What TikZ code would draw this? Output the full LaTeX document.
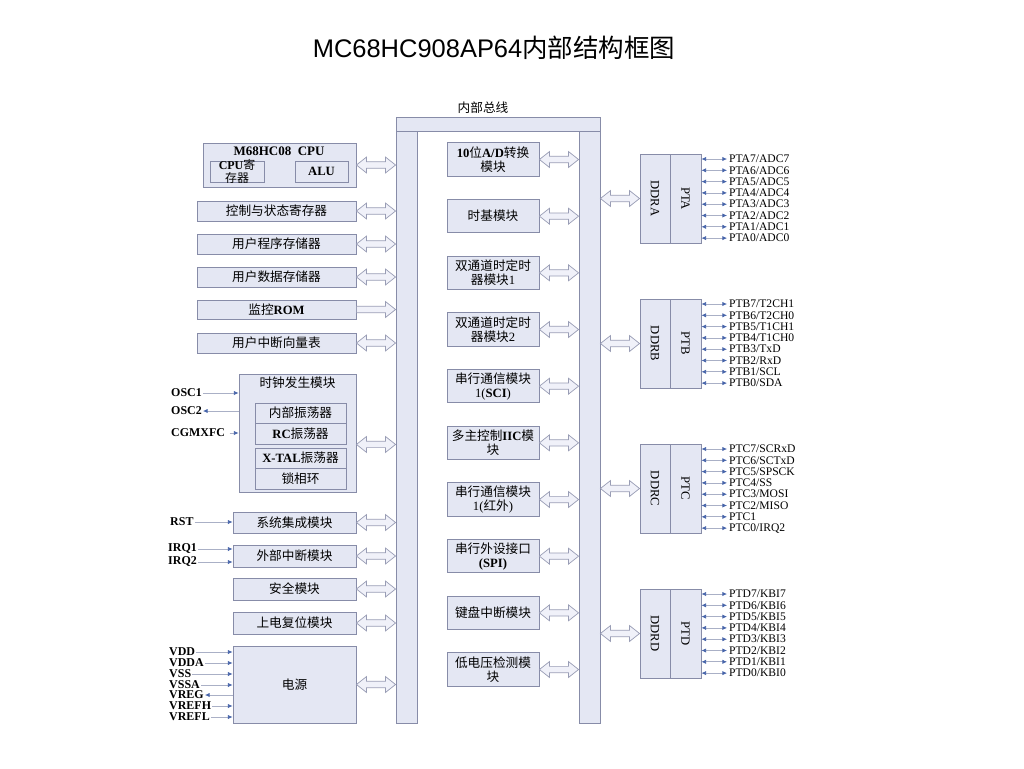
\documentclass[tikz,border=0pt]{standalone}
\usepackage{fontspec}
\setmainfont{Liberation Serif}
\newfontfamily\titlefont{Liberation Sans}
\newfontfamily\zhfont{Noto Sans CJK SC}
\usetikzlibrary{fit, positioning, calc, arrows.meta}
\newcommand{\zh}[1]{{\zhfont #1}}
\definecolor{boxfill}{RGB}{228,231,243}
\definecolor{boxline}{RGB}{135,140,168}
\definecolor{linkfill}{RGB}{240,241,249}
\definecolor{pinline}{RGB}{170,176,198}
\definecolor{pinhead}{RGB}{70,100,170}

% hollow bus arrows
\newcommand{\twoway}[2]{%
  \draw[buslink] let \p1=(#1), \p2=(#2) in
    (\x1,\y1) -- (\x1+5.7pt,\y1+4.5pt) -- (\x1+5.7pt,\y1+1.8pt)
    -- (\x2-5.7pt,\y1+1.8pt) -- (\x2-5.7pt,\y1+4.5pt) -- (\x2,\y1)
    -- (\x2-5.7pt,\y1-4.5pt) -- (\x2-5.7pt,\y1-1.8pt)
    -- (\x1+5.7pt,\y1-1.8pt) -- (\x1+5.7pt,\y1-4.5pt) -- cycle;}
\newcommand{\oneway}[2]{%
  \draw[buslink] let \p1=(#1), \p2=(#2) in
    (\x1,\y1+1.8pt) -- (\x2-5.7pt,\y1+1.8pt) -- (\x2-5.7pt,\y1+4.5pt) -- (\x2,\y1)
    -- (\x2-5.7pt,\y1-4.5pt) -- (\x2-5.7pt,\y1-1.8pt) -- (\x1,\y1-1.8pt) -- cycle;}
% I/O port: letter, top, pins
\newcommand{\ioport}[3]{%
  \node[blk, fit={(640,#2) (670,#2+89)}] (ddr#1) {};
  \node[blk, fit={(670,#2) (701,#2+89)}] (pt#1) {};
  \node[txt, rotate=-90] at (ddr#1.center) {DDR#1};
  \node[txt, rotate=-90] at (pt#1.center) {PT#1};
  \twoway{busR.east |- ddr#1.west}{ddr#1.west}
  \foreach \t [count=\k from 0] in {#3} {
    \node[pinr, anchor=west] (p#1\k) at (727,{#2+5+11.3*\k}) {\t};
    \draw[pinio] (pt#1.east |- p#1\k.west) -- (p#1\k.west);
  }
}

\begin{document}
\begin{tikzpicture}[x=0.02cm, y=-0.02cm,
    txt/.style={align=center, inner sep=0pt, font=\fontsize{7.2}{8}\selectfont},
    blk/.style={draw=boxline, fill=boxfill, line width=0.5pt, inner sep=0pt},
    mod/.style={blk, txt, minimum width=1.84cm, minimum height=0.67cm},
    buslink/.style={draw=boxline!85, fill=linkfill, line width=0.4pt},
    pinl/.style={font=\bfseries\fontsize{6.8}{7}\selectfont, inner sep=0.5pt},
    pinr/.style={font=\fontsize{6.6}{7}\selectfont, inner sep=1pt},
    pinin/.style={draw=pinline, line width=0.4pt, -{Latex[length=2.6pt, width=2.4pt, color=pinhead]}},
    pinout/.style={draw=pinline, line width=0.4pt, {Latex[length=2.6pt, width=2.4pt, color=pinhead]}-},
    pinio/.style={draw=pinline, line width=0.4pt,
      {Latex[length=2.6pt, width=2.4pt, color=pinhead]}-{Latex[length=2.6pt, width=2.4pt, color=pinhead]}},
    node distance=0.446cm
  ]
  \fill[white] (0,0) rectangle (1024,768);
  \useasboundingbox (0,0) rectangle (1024,768);

  \node[font=\fontsize{14.5}{16}\selectfont] (title) at (494,48)
    {{\titlefont MC68HC908AP64}\zh{内部结构框图}};

  % internal bus
  \node[txt] (buslabel) at (483,108) {\zh{内部总线}};
  \node[blk, fit={(396,117) (600,131)}] (busT) {};
  \node[blk, fit={(396,131) (417,723)}] (busL) {};
  \node[blk, fit={(579,131) (600,723)}] (busR) {};

  % left column
  \node[blk, fit={(203,143) (356,187)}] (cpu) {};
  \node[txt, font=\bfseries\fontsize{7.4}{8}\selectfont] (cputitle) at (279,151) {M68HC08\ \ CPU};
  \node[blk, fit={(210,161) (264,182)},
    label={[txt, font=\fontsize{6.8}{7}\selectfont]center:{\textbf{CPU}\zh{寄}\\\zh{存器}}}] (cpureg) {};
  \node[blk, fit={(295,161) (348,182)}, label={[txt]center:\textbf{ALU}}] (alu) {};
  \node[blk, fit={(197,201) (356,221)}, label={[txt]center:\zh{控制与状态寄存器}}] (csr) {};
  \node[blk, fit={(197,234) (356,254)}, label={[txt]center:\zh{用户程序存储器}}] (prog) {};
  \node[blk, fit={(197,267) (356,287)}, label={[txt]center:\zh{用户数据存储器}}] (data) {};
  \node[blk, fit={(197,300) (356,319)}, label={[txt]center:{\zh{监控}\textbf{ROM}}}] (rom) {};
  \node[blk, fit={(197,333) (356,353)}, label={[txt]center:\zh{用户中断向量表}}] (vect) {};

  \node[blk, fit={(239,374) (356,492)}] (clk) {};
  \node[txt] (clktitle) at (297.5,383) {\zh{时钟发生模块}};
  \node[blk, fit={(255,403) (346,423)}, label={[txt]center:\zh{内部振荡器}}] (osci) {};
  \node[blk, fit={(255,423) (346,444)}, label={[txt]center:{\textbf{RC}\zh{振荡器}}}] (rcosc) {};
  \node[blk, fit={(255,448) (346,468)}, label={[txt]center:{\textbf{X-TAL}\zh{振荡器}}}] (xtal) {};
  \node[blk, fit={(255,468) (346,489)}, label={[txt]center:\zh{锁相环}}] (pll) {};

  \node[blk, fit={(233,512) (356,533)}, label={[txt]center:\zh{系统集成模块}}] (sim) {};
  \node[blk, fit={(233,545) (356,567)}, label={[txt]center:\zh{外部中断模块}}] (irq) {};
  \node[blk, fit={(233,578) (356,600)}, label={[txt]center:\zh{安全模块}}] (sec) {};
  \node[blk, fit={(233,612) (356,634)}, label={[txt]center:\zh{上电复位模块}}] (por) {};
  \node[blk, fit={(233,646) (356,723)}, label={[txt]center:\zh{电源}}] (pwr) {};

  % middle column
  \node[mod] (adc) at (493,159.5) {\textbf{10}\zh{位}\textbf{A/D}\zh{转换}\\\zh{模块}};
  \node[mod, below=of adc] (tbm) {\zh{时基模块}};
  \node[mod, below=of tbm] (tim1) {\zh{双通道时定时}\\\zh{器模块}1};
  \node[mod, below=of tim1] (tim2) {\zh{双通道时定时}\\\zh{器模块}2};
  \node[mod, below=of tim2] (sci) {\zh{串行通信模块}\\1(\textbf{SCI})};
  \node[mod, below=of sci] (iic) {\zh{多主控制}\textbf{IIC}\zh{模}\\\zh{块}};
  \node[mod, below=of iic] (irda) {\zh{串行通信模块}\\1(\zh{红外})};
  \node[mod, below=of irda] (spi) {\zh{串行外设接口}\\\textbf{(SPI)}};
  \node[mod, below=of spi] (kbi) {\zh{键盘中断模块}};
  \node[mod, below=of kbi] (lvi) {\zh{低电压检测模}\\\zh{块}};

  % links to the bus
  \foreach \m in {cpu,csr,prog,data,vect,sim,irq,sec,por,pwr} {
    \twoway{\m.east}{busL.west |- \m.east}
  }
  \oneway{rom.east}{busL.west |- rom.east}
  \twoway{clk.east |- rcosc.south}{busL.west |- rcosc.south}
  \foreach \m in {adc,tbm,tim1,tim2,sci,iic,irda,spi,kbi,lvi} {
    \twoway{\m.east}{busR.west |- \m.east}
  }

  % left pins
  \node[pinl, anchor=west] (osc1) at (170,393) {OSC1};
  \draw[pinin] (osc1.east) -- (osc1 -| clk.west);
  \node[pinl, anchor=west] (osc2) at (170,411) {OSC2};
  \draw[pinout] (osc2.east) -- (osc2 -| clk.west);
  \node[pinl, anchor=west] (cgm) at (170,433) {CGMXFC};
  \draw[pinin] ([xshift=2pt]cgm.east) -- (cgm -| clk.west);
  \node[pinl, anchor=west] (rst) at (169,522) {RST};
  \draw[pinin] (rst.east) -- (rst -| sim.west);
  \node[pinl, anchor=west] (irq1) at (167,549) {IRQ1};
  \draw[pinin] (irq1.east) -- (irq1 -| irq.west);
  \node[pinl, anchor=west] (irq2) at (167,562) {IRQ2};
  \draw[pinin] (irq2.east) -- (irq2 -| irq.west);
  \foreach \t/\yy/\d in {VDD/652/pinin, VDDA/663/pinin, VSS/674/pinin, VSSA/685/pinin,
      VREG/695/pinout, VREFH/706/pinin, VREFL/717/pinin} {
    \node[pinl, anchor=west] (\t) at (168,\yy) {\t};
    \draw[\d] (\t.east) -- (\t -| pwr.west);
  }

  % ports
  \ioport{A}{154}{PTA7/ADC7, PTA6/ADC6, PTA5/ADC5, PTA4/ADC4, PTA3/ADC3, PTA2/ADC2, PTA1/ADC1, PTA0/ADC0}
  \ioport{B}{299}{PTB7/T2CH1, PTB6/T2CH0, PTB5/T1CH1, PTB4/T1CH0, PTB3/TxD, PTB2/RxD, PTB1/SCL, PTB0/SDA}
  \ioport{C}{444}{PTC7/SCRxD, PTC6/SCTxD, PTC5/SPSCK, PTC4/SS, PTC3/MOSI, PTC2/MISO, PTC1, PTC0/IRQ2}
  \ioport{D}{589}{PTD7/KBI7, PTD6/KBI6, PTD5/KBI5, PTD4/KBI4, PTD3/KBI3, PTD2/KBI2, PTD1/KBI1, PTD0/KBI0}
\end{tikzpicture}
\end{document}
